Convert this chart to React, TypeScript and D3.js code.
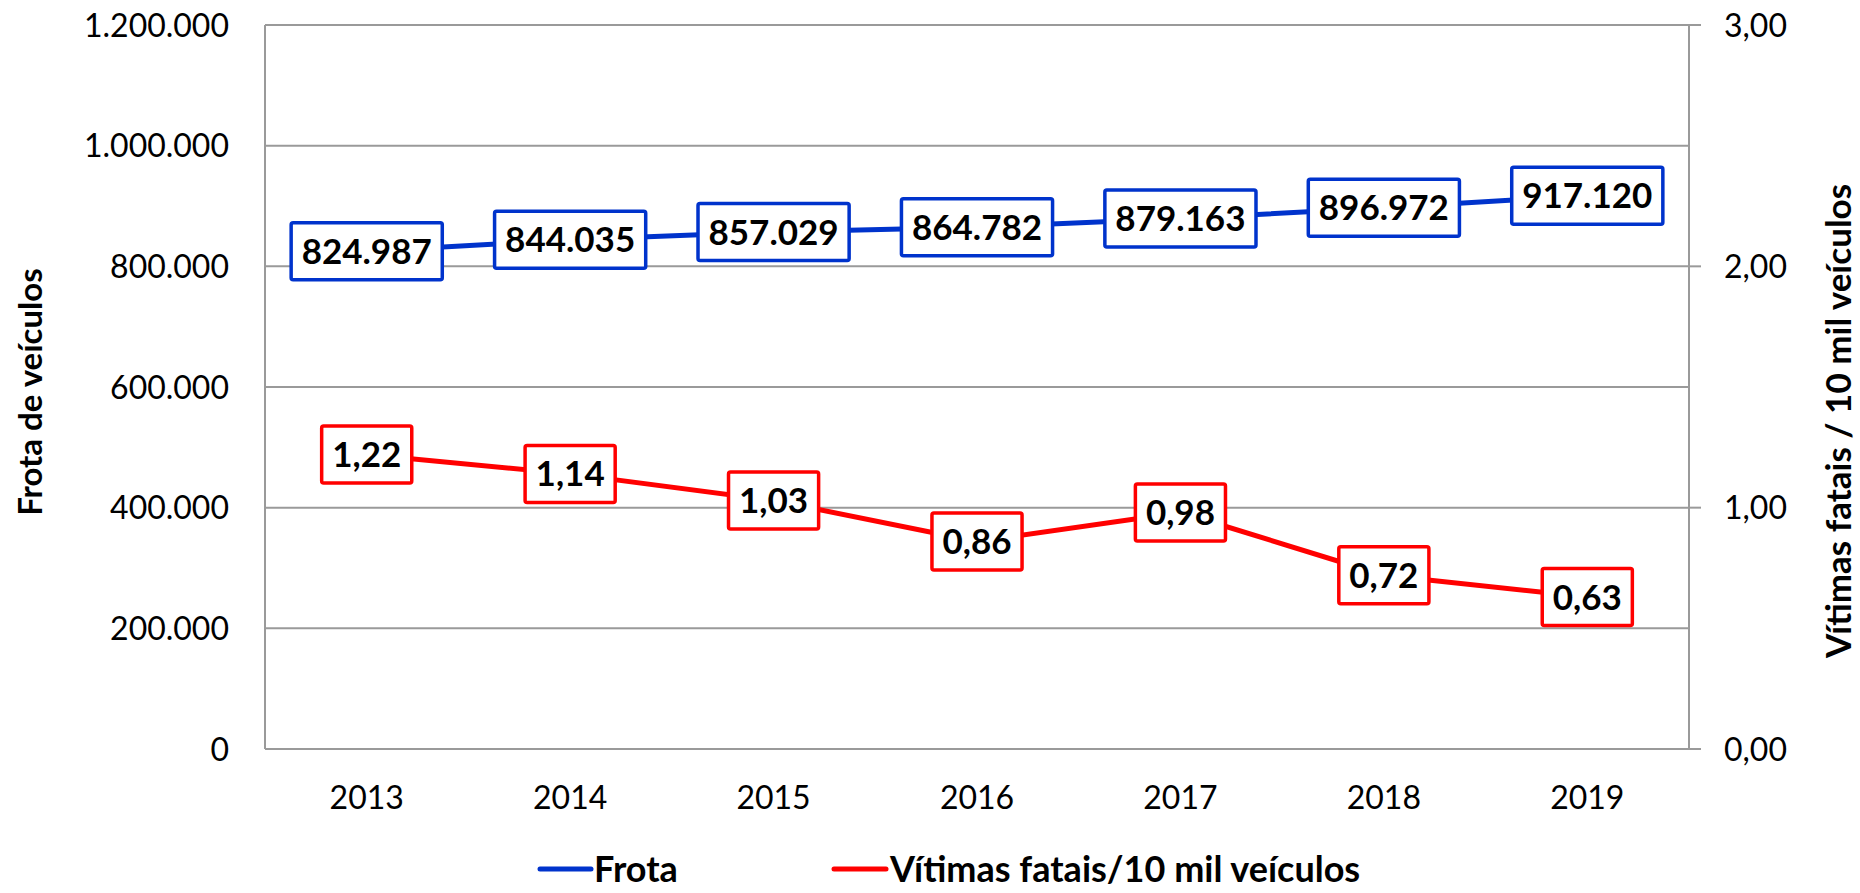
import React, { useEffect, useRef } from "react";
import * as d3 from "d3";

const years = ["2013", "2014", "2015", "2016", "2017", "2018", "2019"];
const frota = [824987, 844035, 857029, 864782, 879163, 896972, 917120];
const vitimas = [1.22, 1.14, 1.03, 0.86, 0.98, 0.72, 0.63];
const leftTicks = [0, 200000, 400000, 600000, 800000, 1000000, 1200000];
const rightTicks = [0, 1, 2, 3];
const leftTitle = "Frota de veículos";
const rightTitle = "Vítimas fatais / 10 mil veículos";
const legendLabels = ["Frota", "Vítimas fatais/10 mil veículos"];

const W = 1860;
const H = 893;
const BLUE = "#0033CC";
const RED = "#FF0000";
const GRAY = "#9a9a9a";
const FONT = "Lato, 'Open Sans', sans-serif";

export default function App() {
  const ref = useRef<SVGSVGElement>(null);

  useEffect(() => {
    const svg = d3.select(ref.current);
    svg.selectAll("*").remove();
    const L = 265, R = 1689, T = 25, B = 749;
    const x = d3.scaleBand().domain(years).range([L, R]);
    const cx = (d: string) => (x(d) as number) + x.bandwidth() / 2;
    const yL = d3.scaleLinear().domain([0, 1200000]).range([B, T]);
    const yR = d3.scaleLinear().domain([0, 3]).range([B, T]);
    const fmtL = (v: number) => d3.format(",")(v).replace(/,/g, ".");
    const fmtR = (v: number) => v.toFixed(2).replace(".", ",");

    const g = svg.append("g").attr("font-family", FONT);

    // gridlines
    g.selectAll(".grid").data(leftTicks).enter().append("line")
      .attr("x1", L).attr("x2", R).attr("y1", (d) => yL(d)).attr("y2", (d) => yL(d))
      .attr("stroke", GRAY).attr("stroke-width", 2);
    // right ticks
    g.selectAll(".rt").data(rightTicks).enter().append("line")
      .attr("x1", R).attr("x2", R + 12).attr("y1", (d) => yR(d)).attr("y2", (d) => yR(d))
      .attr("stroke", GRAY).attr("stroke-width", 2);
    // axes
    g.append("line").attr("x1", L).attr("x2", L).attr("y1", T).attr("y2", B).attr("stroke", GRAY).attr("stroke-width", 2);
    g.append("line").attr("x1", R).attr("x2", R).attr("y1", T).attr("y2", B).attr("stroke", GRAY).attr("stroke-width", 2);

    // tick labels
    g.selectAll(".lt").data(leftTicks).enter().append("text")
      .attr("x", 229).attr("y", (d) => yL(d)).attr("dy", "0.36em")
      .attr("text-anchor", "end").attr("font-size", 32).text((d) => fmtL(d));
    g.selectAll(".rtl").data(rightTicks).enter().append("text")
      .attr("x", 1724).attr("y", (d) => yR(d)).attr("dy", "0.36em")
      .attr("text-anchor", "start").attr("font-size", 32).text((d) => fmtR(d));
    g.selectAll(".xt").data(years).enter().append("text")
      .attr("x", (d) => cx(d)).attr("y", 797).attr("dy", "0.36em")
      .attr("text-anchor", "middle").attr("font-size", 32).text((d) => d);

    // axis titles
    g.append("text").attr("transform", `translate(30,392) rotate(-90)`).attr("dy", "0.36em")
      .attr("text-anchor", "middle").attr("font-size", 33).attr("font-weight", "bold").text(leftTitle);
    g.append("text").attr("transform", `translate(1838,421) rotate(-90)`).attr("dy", "0.36em")
      .attr("text-anchor", "middle").attr("font-size", 35).attr("font-weight", "bold").text(rightTitle);

    // lines
    const lineL = d3.line<number>().x((_, i) => cx(years[i])).y((d) => yL(d));
    const lineR = d3.line<number>().x((_, i) => cx(years[i])).y((d) => yR(d));
    g.append("path").attr("d", lineL(frota) as string).attr("fill", "none").attr("stroke", BLUE).attr("stroke-width", 5).attr("stroke-linejoin", "round");
    g.append("path").attr("d", lineR(vitimas) as string).attr("fill", "none").attr("stroke", RED).attr("stroke-width", 5).attr("stroke-linejoin", "round");

    // labels
    const addLabels = (vals: number[], yS: (v: number) => number, fmt: (v: number) => string, color: string) => {
      vals.forEach((v, i) => {
        const px = cx(years[i]);
        const py = yS(v);
        const lg = g.append("g");
        const rect = lg.append("rect").attr("fill", "#fff").attr("stroke", color).attr("stroke-width", 3.5).attr("rx", 2);
        const t = lg.append("text").attr("x", px).attr("y", py).attr("dy", "0.36em")
          .attr("text-anchor", "middle").attr("font-size", 35).attr("font-weight", "bold").text(fmt(v));
        const w = (t.node() as SVGTextElement).getComputedTextLength();
        const bw = w + 21, bh = 57;
        rect.attr("x", px - bw / 2).attr("y", py - bh / 2).attr("width", bw).attr("height", bh);
      });
    };
    addLabels(frota, yL, fmtL, BLUE);
    addLabels(vitimas, yR, fmtR, RED);

    // legend
    const ly = 869;
    g.append("line").attr("x1", 540).attr("x2", 591).attr("y1", ly).attr("y2", ly).attr("stroke", BLUE).attr("stroke-width", 5).attr("stroke-linecap", "round");
    g.append("text").attr("x", 594).attr("y", ly).attr("dy", "0.36em").attr("font-size", 36).attr("font-weight", "bold").text(legendLabels[0]);
    g.append("line").attr("x1", 834).attr("x2", 886).attr("y1", ly).attr("y2", ly).attr("stroke", RED).attr("stroke-width", 5).attr("stroke-linecap", "round");
    g.append("text").attr("x", 890).attr("y", ly).attr("dy", "0.36em").attr("font-size", 36).attr("font-weight", "bold").text(legendLabels[1]);
  }, []);

  return (
    <svg ref={ref} width={W} height={H} style={{ position: "absolute", left: 0, top: 0, background: "#fff" }} />
  );
}
